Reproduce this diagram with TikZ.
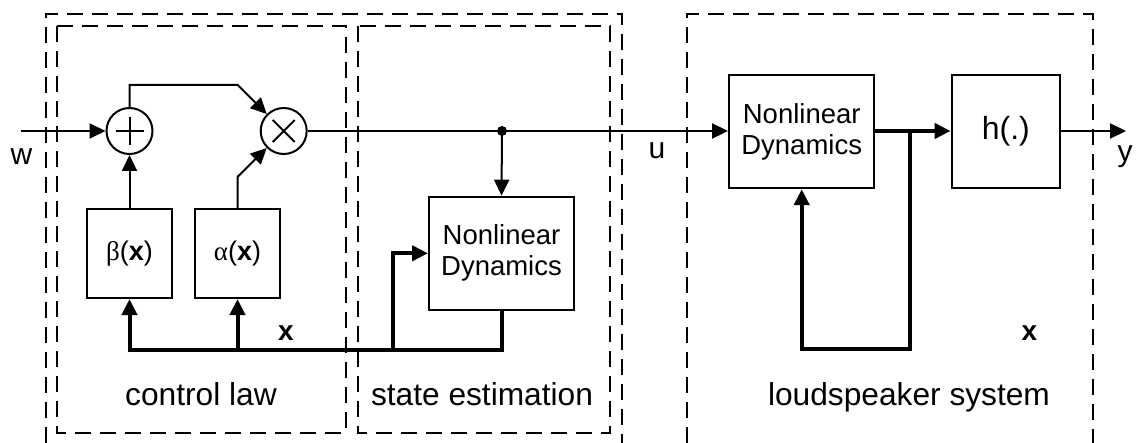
\documentclass[tikz,border=0pt]{standalone}
\usepackage{fontspec}
\setmainfont{Liberation Sans}
\newfontfamily\greekfont{Liberation Serif}
\usetikzlibrary{arrows.meta}

\tikzset{
  thinline/.style={line width=2pt},
  bus/.style={line width=4pt},
  tip/.style={-{Triangle[length=16pt,width=15pt]}},
  block/.style={draw, line width=2pt, inner sep=0pt, align=center,
    font=\fontsize{27.5}{31}\selectfont},
  opnode/.style={draw, circle, line width=2pt, minimum size=46pt, inner sep=0pt},
  frame/.style={draw, line width=2pt, dash pattern=on 16pt off 9pt},
  biglabel/.style={anchor=base, inner sep=0pt, font=\fontsize{31.7}{34}\selectfont},
  siglabel/.style={anchor=base, inner sep=0pt, font=\fontsize{30}{32}\selectfont},
  statelabel/.style={anchor=base, inner sep=0pt, font=\fontsize{28}{30}\selectfont\bfseries},
}

\begin{document}
\begin{tikzpicture}[x=1pt,y=-1pt]
\useasboundingbox (0,0) rectangle (1142,443);

% dashed grouping frames
\draw[frame] (45.7,443) -- (45.7,14) -- (621.7,14) -- (621.7,443);
\draw[frame] (687,443) -- (687,14) -- (1093,14) -- (1093,443);
\draw[frame] (57,26) rectangle (345.7,432.7);
\draw[frame] (357.7,26) rectangle (610,432.7);

% control law blocks
\node[opnode] (sum) at (129.5,131) {};
\node[opnode] (mult) at (283.7,131) {};
\draw[thinline] ([xshift=-14pt]sum.center) -- ([xshift=14pt]sum.center);
\draw[thinline] ([yshift=-14pt]sum.center) -- ([yshift=14pt]sum.center);
\draw[thinline] ([shift={(-11pt,-11pt)}]mult.center) -- ([shift={(11pt,11pt)}]mult.center);
\draw[thinline] ([shift={(-11pt,11pt)}]mult.center) -- ([shift={(11pt,-11pt)}]mult.center);

\node[block, minimum width=85pt, minimum height=89pt, font=\fontsize{27}{30}\selectfont]
  (beta) at (129.5,253.5) {{\greekfont β}(\textbf{x})};
\node[block, minimum width=85pt, minimum height=89pt, font=\fontsize{27}{30}\selectfont]
  (alpha) at (237.5,253.5) {{\greekfont α}(\textbf{x})};

% state estimation block
\node[block, minimum width=145pt, minimum height=113.3pt] (est) at (501.5,253.3)
  {Nonlinear\\Dynamics};

% loudspeaker system blocks
\node[block, minimum width=145.3pt, minimum height=113.3pt] (plant) at (801.7,131.5)
  {Nonlinear\\Dynamics};
\node[block, minimum width=108.3pt, minimum height=113.3pt,
  font=\fontsize{32}{34}\selectfont] (hbox) at (1005.8,131.5) {h(.)};

% routing points
\coordinate (win) at (20.7,131);
\coordinate (tk) at (237.7,85);
\coordinate (ak) at (237.7,176.7);
\coordinate (jn) at (502,131);
\coordinate (busL) at (129.5,350);
\coordinate (fb) at (393.3,350);
\coordinate (pb) at (910,131);
\coordinate (pbL) at (801.7,349.3);
\coordinate (yout) at (1126,131);

% signal path
\draw[thinline,tip] (win) -- (sum.west);
\draw[thinline,tip] (beta.north) -- (sum.south);
\draw[thinline,tip] (sum.north) |- (tk) -- (mult.135);
\draw[thinline,tip] (alpha.north) -- (ak) -- (mult.225);
\draw[thinline,tip] (mult.east) -- (plant.west |- mult.east);
\fill (jn) circle (5pt);
\draw[thinline,tip] (jn) -- (est.north);

% estimated state feedback
\draw[bus,tip] (est.south) |- (busL) -- (beta.south);
\draw[bus,tip] (alpha.south |- busL) -- (alpha.south);
\draw[bus,tip] (fb) |- (est.west);

% plant
\draw[bus,tip] (plant.east |- pb) -- (hbox.west |- pb);
\draw[bus,tip] (pb) |- (pbL) -- (plant.south);
\draw[thinline,tip] (hbox.east |- yout) -- (yout);

% labels
\node[siglabel] (lw) at (21.5,165) {w};
\node[siglabel] (lu) at (657,158.3) {u};
\node[siglabel] (ly) at (1125,162) {y};
\node[statelabel] (lx1) at (286,340) {x};
\node[statelabel] (lx2) at (1029.5,340) {x};
\node[biglabel] (lctl) at (201,405) {control law};
\node[biglabel] (lest) at (482,405) {state estimation};
\node[biglabel] (lspk) at (909,405) {loudspeaker system};
\end{tikzpicture}
\end{document}
